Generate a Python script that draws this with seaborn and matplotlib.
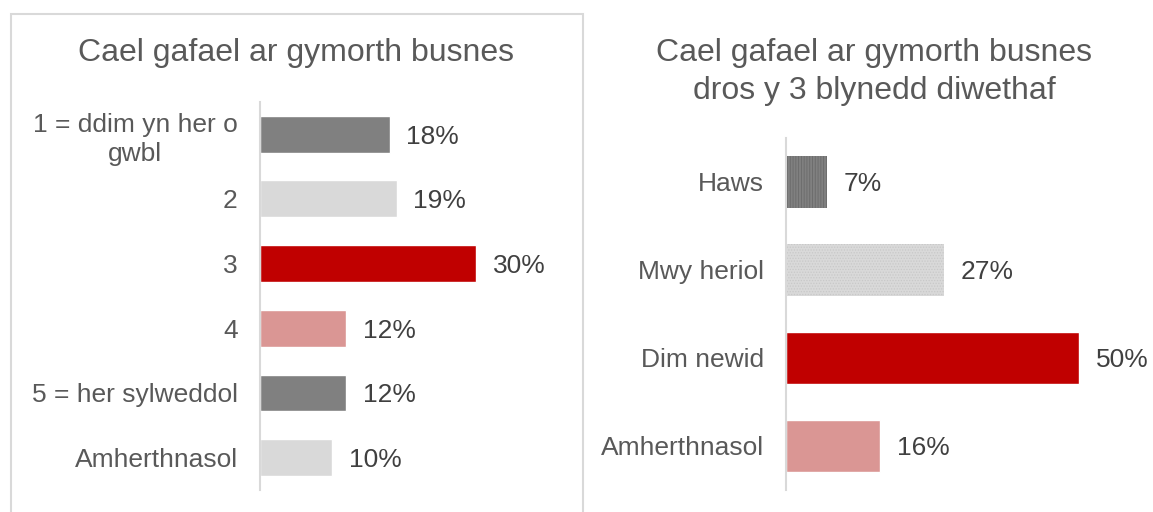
import matplotlib
matplotlib.use("Agg")
import matplotlib.pyplot as plt
import matplotlib.patches as mpatches
import seaborn as sns

# data
left_title = "Cael gafael ar gymorth busnes"
left_cats = ["1 = ddim yn her o\ngwbl", "2", "3", "4", "5 = her sylweddol", "Amherthnasol"]
left_vals = [18, 19, 30, 12, 12, 10]
left_colors = ["#808080", "#D9D9D9", "#C00000", "#DA9694", "#808080", "#D9D9D9"]

right_title = "Cael gafael ar gymorth busnes\ndros y 3 blynedd diwethaf"
right_cats = ["Haws", "Mwy heriol", "Dim newid", "Amherthnasol"]
right_vals = [7, 27, 50, 16]
right_colors = ["#808080", "#D9D9D9", "#C00000", "#DA9694"]
right_hatches = ["||||||", "......", None, None]
right_hatch_colors = ["#6a6a6a", "#c8c8c8", None, None]

sns.set_style("white")
plt.rcParams['font.family'] = ['Liberation Sans', 'DejaVu Sans']
plt.rcParams['hatch.linewidth'] = 0.6

TXT = "#595959"
VAL = "#404040"
AXIS = "#D9D9D9"


def draw_bars(ax, cats, vals, colors, xmax, width):
    sns.barplot(x=vals, y=cats, hue=cats, palette=colors, legend=False,
                orient="h", ax=ax, width=width, saturation=1, dodge=False)
    ax.set_xlim(0, xmax)
    ax.set_ylim(len(cats) - 0.5, -0.5)
    for cont, v in zip(ax.containers, vals):
        texts = ax.bar_label(cont, labels=[f"{v}%"], padding=12, fontsize=19,
                             color=VAL)
        for t in texts:
            t.set_va("center_baseline")
    for s in ["top", "right", "bottom"]:
        ax.spines[s].set_visible(False)
    ax.spines["left"].set_color(AXIS)
    ax.spines["left"].set_linewidth(1.5)
    ax.set_xticks([])
    ax.set_xlabel("")
    ax.set_ylabel("")
    ax.tick_params(axis="y", length=0, pad=16, labelsize=19, labelcolor=TXT)
    for lbl in ax.get_yticklabels():
        lbl.set_multialignment("center")
        lbl.set_linespacing(1.3)


fig = plt.figure(figsize=(11.53, 5.12), dpi=100)

# light border around the left chart
fig.patches.append(mpatches.Rectangle((0.0095, -0.02), 0.496, 0.9927,
                                      transform=fig.transFigure, fill=False,
                                      edgecolor=AXIS, linewidth=1.5))

ax1 = fig.add_axes([0.2255, 0.043, 0.2498, 0.758])
draw_bars(ax1, left_cats, left_vals, left_colors, 40, 0.57)
fig.text(0.257, 0.896, left_title, ha="center", va="center", fontsize=23, color=TXT)

ax2 = fig.add_axes([0.6817, 0.043, 0.3053, 0.6875])
draw_bars(ax2, right_cats, right_vals, right_colors, 60, 0.58)
for cont, h, hc in zip(ax2.containers, right_hatches, right_hatch_colors):
    if h:
        for p in cont.patches:
            p.set_hatch(h)
            p.set_edgecolor(hc)
            p.set_linewidth(0)
fig.text(0.758, 0.86, right_title, ha="center", va="center", fontsize=23,
         color=TXT, linespacing=1.35)

fig.savefig("out.png", dpi=100)
